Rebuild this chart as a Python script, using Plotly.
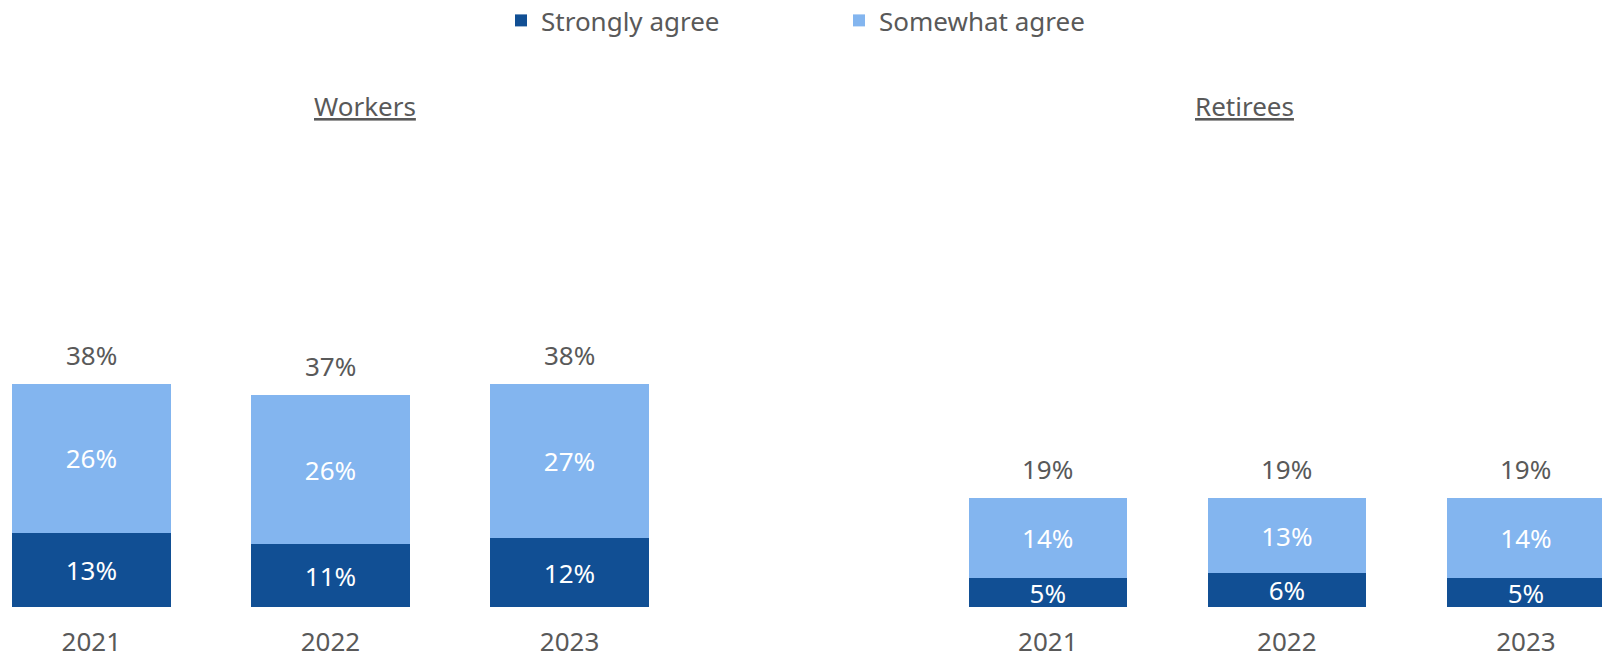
import plotly.graph_objects as go

groups = ["Workers", "Retirees"]
years = ["2021", "2022", "2023"]
strongly_agree = [13, 11, 12, 5, 6, 5]
somewhat_agree = [26, 26, 27, 14, 13, 14]
totals = [38, 37, 38, 19, 19, 19]

DARK = "#114F94"
LIGHT = "#83B5EF"
GRAY = "#595959"
FONT = "Noto Sans"

# slot positions: one empty slot between groups
xpos = [g * 4 + i for g in range(len(groups)) for i in range(len(years))]
xlabels = years * len(groups)

fig = go.Figure()
fig.add_trace(go.Bar(
    name="Strongly agree", x=xpos, y=strongly_agree,
    marker=dict(color=DARK, line=dict(width=0)), width=0.6625,
    text=[f"{v}%" for v in strongly_agree], textposition="inside",
    insidetextanchor="middle", constraintext="none",
    textfont=dict(color="white", size=26, family=FONT),
    hoverinfo="skip",
))
fig.add_trace(go.Bar(
    name="Somewhat agree", x=xpos, y=somewhat_agree,
    marker=dict(color=LIGHT, line=dict(width=0)), width=0.6625,
    text=[f"{v}%" for v in somewhat_agree], textposition="inside",
    insidetextanchor="middle", constraintext="none",
    textfont=dict(color="white", size=26, family=FONT),
    hoverinfo="skip",
))

for x, s, m, t in zip(xpos, strongly_agree, somewhat_agree, totals):
    fig.add_annotation(x=x, y=s + m, text=f"{t}%", showarrow=False,
                       yanchor="middle", yshift=29,
                       font=dict(size=26, color=GRAY, family=FONT))

title_x = [364.7 / 1602, 1244.5 / 1602]
for g, tx in zip(groups, title_x):
    fig.add_annotation(xref="paper", yref="paper", x=tx, y=(607 - 106) / 477,
                       text=f"<u>{g}</u>", showarrow=False,
                       xanchor="center", yanchor="middle",
                       font=dict(size=26, color=GRAY, family=FONT))

fig.update_layout(
    width=1602, height=654,
    barmode="stack",
    plot_bgcolor="white", paper_bgcolor="white",
    margin=dict(l=0, r=0, t=130, b=47, pad=0, autoexpand=False),
    font=dict(family=FONT, color=GRAY, size=26),
    legend=dict(orientation="h", x=501 / 1602, xanchor="left",
                y=(607 - 20.5) / 477, yanchor="middle",
                traceorder="normal",
                entrywidth=293, entrywidthmode="pixels",
                font=dict(size=26, color=GRAY, family=FONT),
                bgcolor="rgba(0,0,0,0)"),
    xaxis=dict(range=[-0.382, 6.318], tickmode="array", tickvals=xpos,
               ticktext=xlabels, showgrid=False, zeroline=False,
               showline=False, ticks="", ticklabelstandoff=17,
               automargin=False,
               tickfont=dict(size=26, color=GRAY, family=FONT)),
    yaxis=dict(range=[0, 477 / 5.72], visible=False, showgrid=False,
               zeroline=False, automargin=False),
)

fig.write_html(
    "out.html",
    config={"displayModeBar": False},
    post_script="document.body.style.margin='0';"
                "document.body.style.overflow='hidden';",
)
